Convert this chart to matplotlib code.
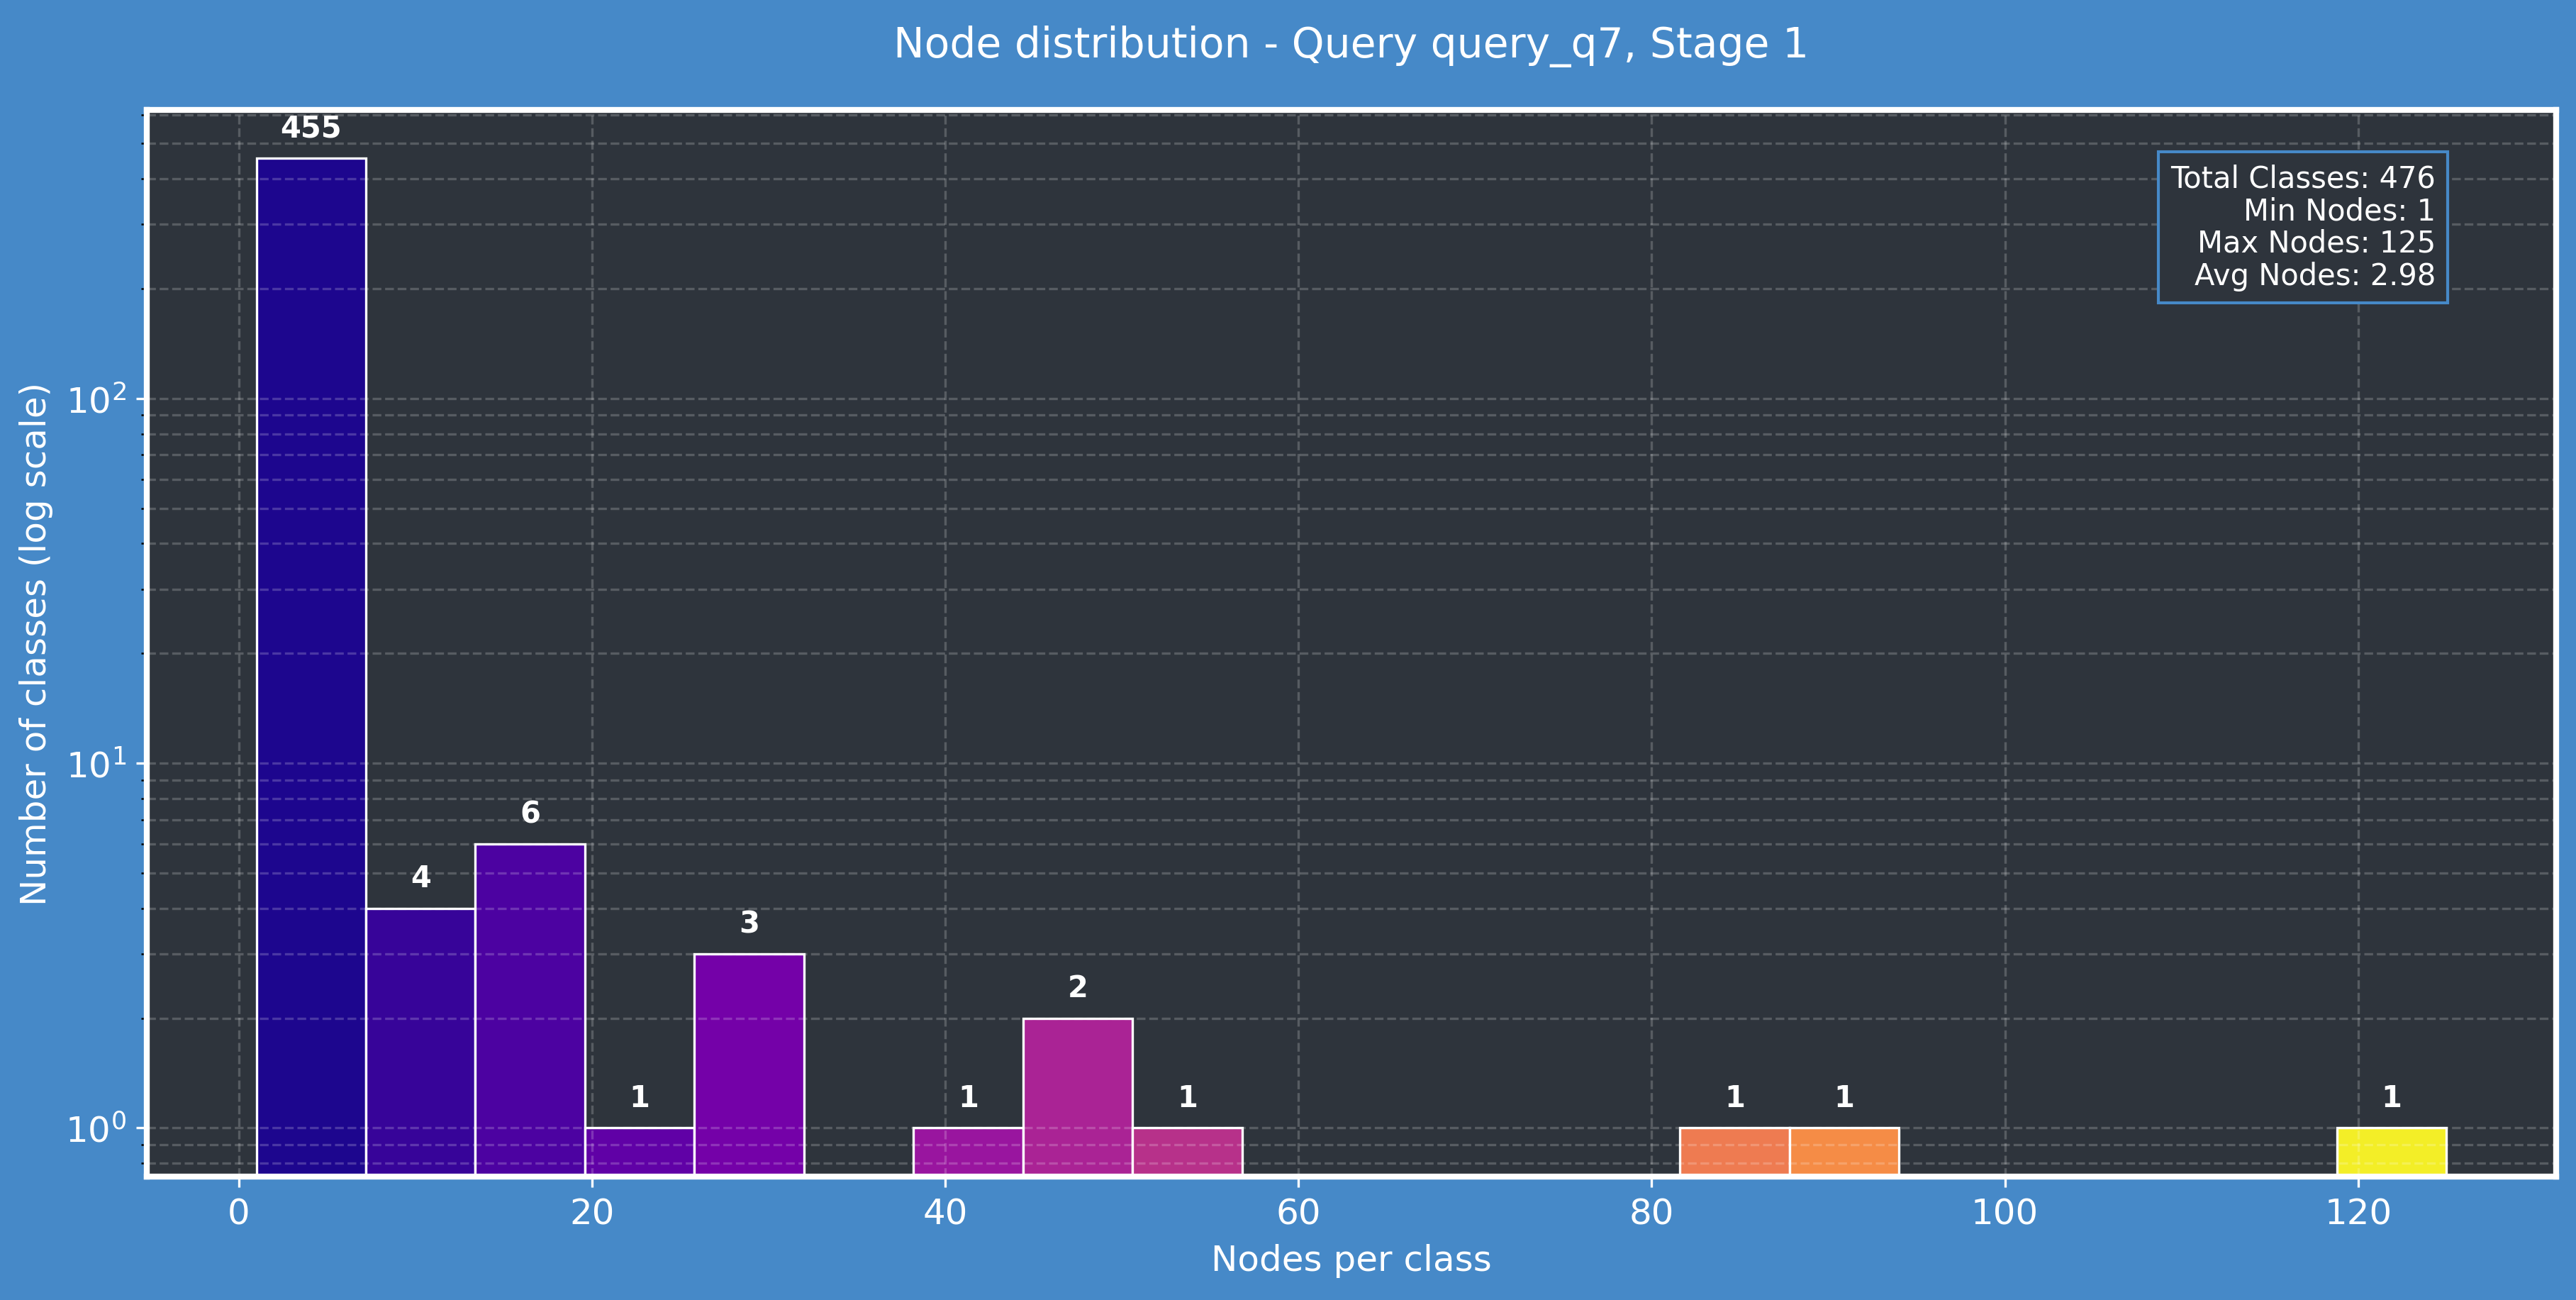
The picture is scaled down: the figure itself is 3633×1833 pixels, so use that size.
import numpy as np
import matplotlib
matplotlib.use("Agg")
import matplotlib.pyplot as plt

# histogram counts per bin (20 equal bins between min and max nodes)
counts = [455, 4, 6, 1, 3, 0, 1, 2, 1, 0, 0, 0, 0, 1, 1, 0, 0, 0, 0, 1]
min_nodes = 1
max_nodes = 125
total_classes = 476
avg_nodes = 2.98
title = "Node distribution - Query query_q7, Stage 1"

bg = "#4689c8"
face = "#2e343c"

edges = np.linspace(min_nodes, max_nodes, len(counts) + 1)
centers = (edges[:-1] + edges[1:]) / 2

fig = plt.figure(figsize=(12.113, 6.113), dpi=300, facecolor=bg)
ax = fig.add_axes([0.057, 0.095, 0.935, 0.82])
ax.set_facecolor(face)

n, bins, patches = ax.hist(centers, bins=edges, weights=counts,
                           edgecolor="white", linewidth=0.8)
norm = plt.Normalize(bins.min(), bins.max())
for p, c in zip(patches, centers):
    p.set_facecolor(plt.cm.plasma(norm(c)))

ax.set_yscale("log")
ax.set_ylim(10 ** -0.133, 10 ** 2.791)

for x, h in zip(centers, counts):
    if h > 0:
        ax.text(x, h * 1.1, str(h), ha="center", va="bottom",
                color="white", fontsize=10, fontweight="bold")

ax.grid(True, which="both", linestyle="--", color="white", alpha=0.2,
        linewidth=0.8)

for s in ax.spines.values():
    s.set_color("white")
    s.set_linewidth(2)
ax.tick_params(colors="white", labelsize=12)

ax.set_title(title, color="white", fontsize=14, pad=18)
ax.set_xlabel("Nodes per class", color="white", fontsize=12)
ax.set_ylabel("Number of classes (log scale)", color="white", fontsize=12)

stats = (f"Total Classes: {total_classes}\nMin Nodes: {min_nodes}\n"
         f"Max Nodes: {max_nodes}\nAvg Nodes: {avg_nodes}")
ax.text(0.95, 0.95, stats, transform=ax.transAxes, ha="right", va="top",
        multialignment="right", color="white", fontsize=10, linespacing=1.12,
        bbox=dict(boxstyle="square,pad=0.4", facecolor=face,
                  edgecolor=bg, linewidth=1))

fig.savefig("out.png", dpi=300, facecolor=bg)
